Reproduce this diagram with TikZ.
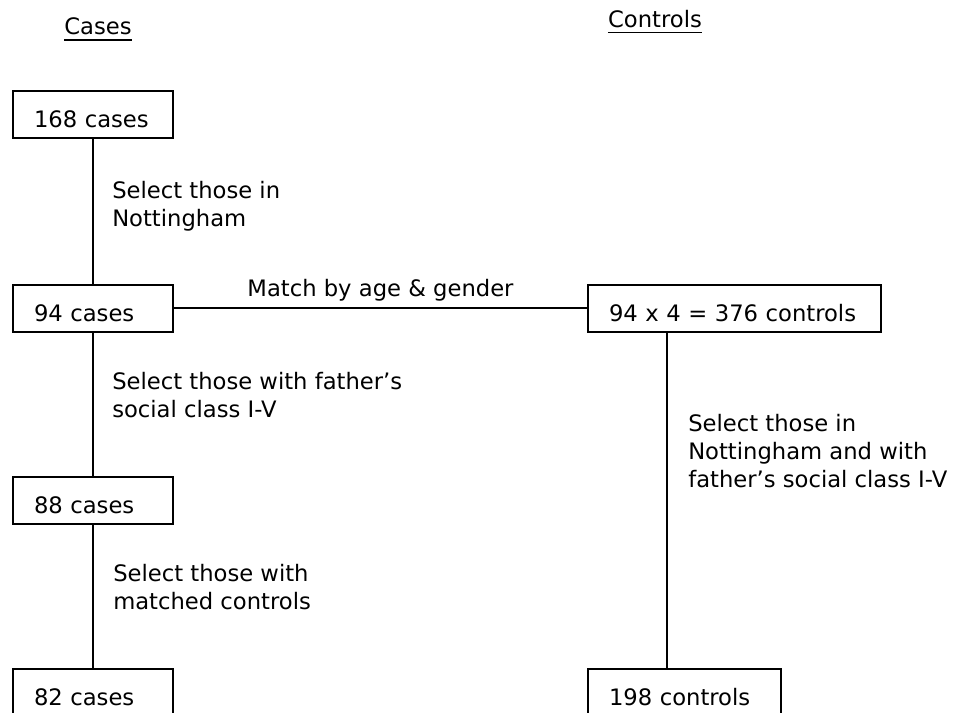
\documentclass[tikz,border=0pt]{standalone}
\usepackage{fontspec}
\setmainfont{DejaVu Sans}
\usepackage{tikz}
\usetikzlibrary{positioning}

\tikzset{
  stagebox/.style={draw, line width=1.5pt, anchor=north west, minimum height=35pt,
    text width=#1, inner xsep=15.75pt, text height=19.5pt, text depth=0pt, align=left},
  stagebox/.default=88.5pt,
  link/.style={line width=1.4pt},
  note/.style={anchor=north west, inner sep=0pt, align=left},
  heading/.style={anchor=base, inner sep=0pt},
  underbar/.style={line width=1.1pt}
}

\begin{document}
\begin{tikzpicture}[x=0.75pt, y=-0.75pt, every node/.style={font=\fontsize{17}{21}\selectfont}]
\useasboundingbox (0,0) rectangle (959,713);
\clip (0,0) rectangle (959,713);
%%% Draws column headings
\node[heading] (hcases) at (98,35) {Cases};
\node[heading] (hcontrols) at (655,28) {Controls};
\draw[underbar] ([yshift=-3.75pt]hcases.base west) -- ([yshift=-3.75pt]hcases.base east);
\draw[underbar] ([yshift=-3.5pt]hcontrols.base west) -- ([yshift=-3.5pt]hcontrols.base east);
%%% Draws cases column
% draws boxes
\node[stagebox] (c168) at (12,90) {168 cases};
\node[stagebox] (c94) at (12,284) {94 cases};
\node[stagebox] (c88) at (12,476) {88 cases};
\node[stagebox] (c82) at (12,668) {82 cases};
% draws links
\draw[link] (c168.south) -- (c94.north);
\draw[link] (c94.south) -- (c88.north);
\draw[link] (c88.south) -- (c82.north);
% labels links
\node[note] (sel1) at (112,181) {Select those in\\Nottingham};
\node[note] (sel2) at (112,372) {Select those with father’s\\social class I-V};
\node[note] (sel3) at (113,564) {Select those with\\matched controls};
%%% Draws controls column
% draws boxes
\node[stagebox=188.25pt] (ctl376) at (587,284) {94 x 4 = 376 controls};
\node[stagebox=113.25pt] (ctl198) at (587,668) {198 controls};
% draws links
\draw[link] (c94.east) -- node[above=5pt, inner sep=0pt] (match) {Match by age \& gender} (ctl376.west);
\draw[link] ([xshift=60pt]ctl376.south west) -- ([xshift=60pt]ctl198.north west);
% labels link
\node[note] (selctl) at (688,414) {Select those in\\Nottingham and with\\father’s social class I-V};
\end{tikzpicture}
\end{document}
